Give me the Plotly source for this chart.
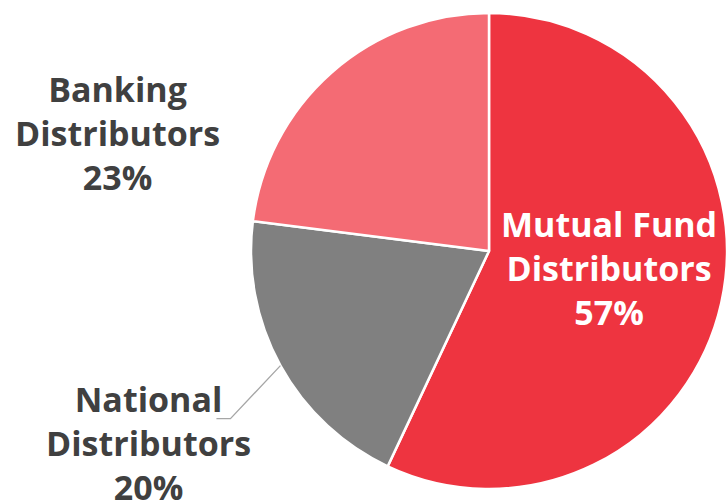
import math
import plotly.graph_objects as go

names = [["Mutual Fund", "Distributors"], ["National", "Distributors"], ["Banking", "Distributors"]]
values = [57, 20, 23]
colors = ["#EE3440", "#808080", "#F46B74"]
label_colors = ["#FFFFFF", "#404040", "#404040"]

W, H = 727, 502
OFF = 0  # body margin removed below
# label layout: centre x and middle-line baseline y (window pixels)
label_cx = [609, 148, 118]
label_mid_baseline = [281, 456, 146]

pie_cx, pie_cy, pie_r = 489, 251, 238
dom_x = [(pie_cx - pie_r) / W, min(1.0, (pie_cx + pie_r) / W)]
dom_y = [1 - (pie_cy + pie_r) / H, 1 - (pie_cy - pie_r) / H]

fig = go.Figure(go.Pie(
    labels=[" ".join(n) for n in names], values=values, sort=False,
    direction="clockwise", rotation=0,
    marker=dict(colors=colors, line=dict(color="white", width=2.5)),
    textinfo="none", hoverinfo="skip", showlegend=False,
    domain=dict(x=dom_x, y=dom_y),
))

FS = 34
font_family = "Open Sans"
for lines, val, col, cx, bl in zip(names, values, label_colors, label_cx, label_mid_baseline):
    ymid = bl - 0.388 * FS - OFF
    fig.add_annotation(
        x=(cx - OFF) / W, y=1 - ymid / H, xref="paper", yref="paper",
        text="<b>" + "<br>".join(lines + [f"{val}%"]) + "</b>", showarrow=False,
        font=dict(family=font_family, size=FS, color=col),
        align="center", xanchor="center", yanchor="middle",
    )

# leader line for National Distributors, starting on the rim at the slice's mid-angle
total = sum(values)
start = values[0] / total * 360
mid = math.radians(start + values[1] / total * 360 / 2)
x0 = pie_cx + pie_r * math.sin(mid)
y0 = pie_cy - pie_r * math.cos(mid)
x1, y1 = x0 - 50, y0 + 53
x2 = x1 - 14
path = f"M {x0/W},{1-y0/H} L {x1/W},{1-y1/H} L {x2/W},{1-y1/H}"
fig.add_shape(type="path", xref="paper", yref="paper", path=path,
              line=dict(color="#A6A6A6", width=1.3))

fig.update_layout(
    width=W, height=H, margin=dict(l=0, r=0, t=0, b=0),
    paper_bgcolor="white", plot_bgcolor="white",
)
fig.write_html(
    "out.html",
    config={"displayModeBar": False},
    post_script="document.body.style.margin='0';document.documentElement.style.overflow='hidden';document.body.style.overflow='hidden';",
)
